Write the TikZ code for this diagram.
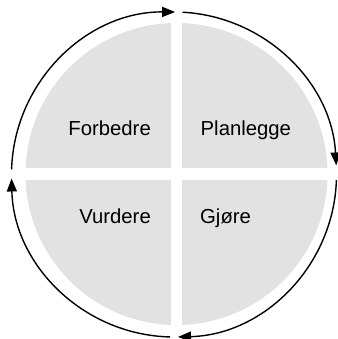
\documentclass[tikz,border=0pt]{standalone}
\usepackage{fontspec}
\setmainfont{Liberation Sans}
\usetikzlibrary{arrows.meta,calc}
\definecolor{quadgray}{RGB}{226,226,226}
\tikzset{
  cyclearc/.style={line width=1.4pt,-{Triangle[length=13pt,width=10pt]}},
  lbl/.style={font=\fontsize{20.3}{23}\selectfont,inner sep=0pt}
}
\begin{document}
\begin{tikzpicture}[x=1pt,y=1pt]
\useasboundingbox (0,0) rectangle (337,339);
% gray quadrants
\coordinate (g) at (176.5,165);
\fill[quadgray] (g) circle[radius=151];
\fill[white] (171,0) rectangle (182,339);
\fill[white] (0,159) rectangle (337,171);
% cycle arcs
\def\R{162.5}
\coordinate (c) at (174,164.5);
\coordinate (pA) at ($(c)+(178.2:\R)$);
\coordinate (pB) at ($(c)+(87:\R)$);
\coordinate (pC) at ($(c)+(-2:\R)$);
\coordinate (pD) at ($(c)+(-91.4:\R)$);
\draw[cyclearc] (pA) arc[start angle=178.2,end angle=89.6,radius=\R];
\draw[cyclearc] (pB) arc[start angle=87,end angle=3.2,radius=\R];
\draw[cyclearc] (pC) arc[start angle=-2,end angle=-88.6,radius=\R];
\draw[cyclearc] (pD) arc[start angle=-91.4,end angle=-178.6,radius=\R];
% labels
\node[lbl,anchor=base east] (forb) at (151,203.3) {Forbedre};
\node[lbl,anchor=base west] (plan) at (200.5,203.3) {Planlegge};
\node[lbl,anchor=base east] (vurd) at (151,115.7) {Vurdere};
\node[lbl,anchor=base west] (gjor) at (200,115.7) {Gjøre};
\end{tikzpicture}
\end{document}
